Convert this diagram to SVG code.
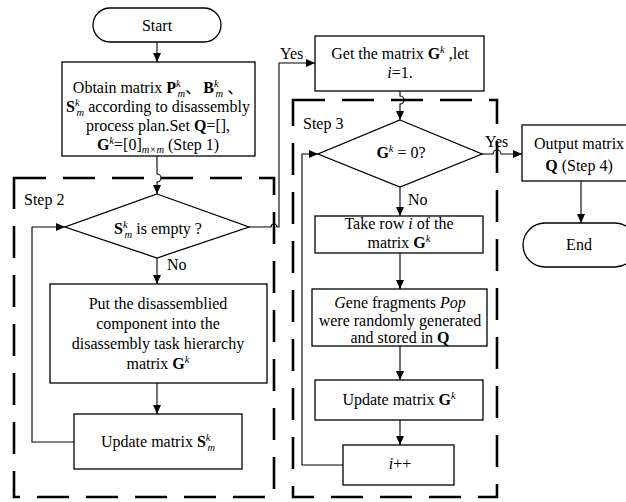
<svg xmlns="http://www.w3.org/2000/svg" width="626" height="502" viewBox="0 0 626 502">
<style>
.t{font-family:"Liberation Serif","Noto Sans CJK SC",serif;font-size:16px;fill:#000}
.m{text-anchor:middle}
.b{font-weight:bold}
.i{font-style:italic}
.s{font-size:10.5px;font-style:italic}
.box{fill:#fff;stroke:#000;stroke-width:1.3}
.cn{fill:none;stroke:#000;stroke-width:1.1}
.dash{fill:none;stroke:#000;stroke-width:2.6;stroke-dasharray:32 17}
</style>
<defs>
<marker id="ah" markerUnits="userSpaceOnUse" markerWidth="10" markerHeight="8" refX="9" refY="4" orient="auto">
<path d="M0,0 L9,4 L0,8 Z" fill="#000"/>
</marker>
</defs>

<g id="step2-region">
<rect class="dash" x="14" y="178" width="260" height="319"/>
<text class="t" x="24" y="205">Step 2</text>
</g>
<g id="step3-region">
<rect class="dash" x="293" y="100" width="204" height="397"/>
<text class="t" x="303" y="129">Step 3</text>
</g>

<g id="connectors">
<path class="cn" d="M157,42 V62" marker-end="url(#ah)"/>
<path class="cn" d="M157,156 V174 A4,4 0 0 1 157,182 V194" marker-end="url(#ah)"/>
<path class="cn" d="M157,258 V284" marker-end="url(#ah)"/>
<path class="cn" d="M157,383 V414" marker-end="url(#ah)"/>
<path class="cn" d="M74,442 H32 V227 H65" marker-end="url(#ah)"/>
<path class="cn" d="M249,227 H271 A3,3 0 0 1 277,227 H279 V63 H315" marker-end="url(#ah)"/>
<path class="cn" d="M400,91 V96 A4,4 0 0 1 400,104 V120" marker-end="url(#ah)"/>
<path class="cn" d="M400,187 V216" marker-end="url(#ah)"/>
<path class="cn" d="M400,253 V289" marker-end="url(#ah)"/>
<path class="cn" d="M400,346 V380" marker-end="url(#ah)"/>
<path class="cn" d="M400,420 V445" marker-end="url(#ah)"/>
<path class="cn" d="M343,465 H302 V154 H318" marker-end="url(#ah)"/>
<path class="cn" d="M482,154 H493 A4,4 0 0 1 501,154 H522" marker-end="url(#ah)"/>
<path class="cn" d="M581,181 V223" marker-end="url(#ah)"/>
<text class="t" x="167" y="270">No</text>
<text class="t" x="280" y="59">Yes</text>
<text class="t" x="408" y="205">No</text>
<text class="t" x="485" y="147">Yes</text>
</g>

<g id="start">
<rect class="box" x="93" y="8" width="128" height="34" rx="17"/>
<text class="t m" x="157" y="31">Start</text>
</g>

<g id="init">
<rect class="box" x="62" y="62" width="193" height="94"/>
<text class="t m" x="158" y="93">Obtain matrix <tspan class="b">P</tspan><tspan class="s" dy="-6">k</tspan><tspan class="s" dx="-3" dy="10">m</tspan><tspan dy="-4">、</tspan><tspan class="b" dx="2">B</tspan><tspan class="s" dy="-6">k</tspan><tspan class="s" dx="-3" dy="10">m</tspan><tspan dy="-4"> 、</tspan></text>
<text class="t m" x="158" y="112"><tspan class="b">S</tspan><tspan class="s" dy="-6">k</tspan><tspan class="s" dx="-3" dy="10">m</tspan><tspan dy="-4"> according to disassembly</tspan></text>
<text class="t m" x="158" y="131">process plan.Set <tspan class="b">Q</tspan>=[],</text>
<text class="t m" x="158" y="150"><tspan class="b">G</tspan><tspan class="s" dy="-6">k</tspan><tspan dy="6">=[0]</tspan><tspan class="s" dy="3">m×m</tspan><tspan dy="-3"> (Step 1)</tspan></text>
</g>

<g id="s-empty">
<polygon class="box" points="157,194 249,227 157,258 65,227"/>
<text class="t m" x="158" y="234"><tspan class="b">S</tspan><tspan class="s" dy="-6">k</tspan><tspan class="s" dx="-3" dy="10">m</tspan><tspan dy="-4"> is empty ?</tspan></text>
</g>

<g id="put">
<rect class="box" x="50" y="284" width="217" height="99"/>
<text class="t m" x="158" y="309">Put the disassemblied</text>
<text class="t m" x="158" y="329">component into the</text>
<text class="t m" x="158" y="349">disassembly task hierarchy</text>
<text class="t m" x="158" y="369">matrix <tspan class="b">G</tspan><tspan class="s" dy="-6">k</tspan></text>
</g>

<g id="update-s">
<rect class="box" x="74" y="414" width="168" height="55"/>
<text class="t m" x="158" y="447">Update matrix <tspan class="b">S</tspan><tspan class="s" dy="-6">k</tspan><tspan class="s" dx="-3" dy="10">m</tspan></text>
</g>

<g id="get-g">
<rect class="box" x="315" y="36" width="169" height="55"/>
<text class="t m" x="400" y="59">Get the matrix <tspan class="b">G</tspan><tspan class="s" dy="-6">k</tspan><tspan dy="6"> ,let</tspan></text>
<text class="t m" x="400" y="78"><tspan class="i">i</tspan>=1.</text>
</g>

<g id="g-zero">
<polygon class="box" points="400,120 482,154 400,187 318,154"/>
<text class="t m" x="401" y="158"><tspan class="b">G</tspan><tspan class="s" dy="-6">k</tspan><tspan dy="6"> = 0?</tspan></text>
</g>

<g id="take-row">
<rect class="box" x="315" y="216" width="168" height="37"/>
<text class="t m" x="399" y="229">Take row <tspan class="i">i</tspan> of the</text>
<text class="t m" x="399" y="248">matrix <tspan class="b">G</tspan><tspan class="s" dy="-6">k</tspan></text>
</g>

<g id="gene">
<rect class="box" x="312" y="289" width="175" height="57"/>
<text class="t m" x="400" y="308"><tspan class="i">G</tspan>ene fragments <tspan class="i">Pop</tspan></text>
<text class="t m" x="400" y="326">were randomly generated</text>
<text class="t m" x="400" y="343">and stored in <tspan class="b">Q</tspan></text>
</g>

<g id="update-g">
<rect class="box" x="315" y="380" width="168" height="40"/>
<text class="t m" x="399" y="405">Update matrix <tspan class="b">G</tspan><tspan class="s" dy="-6">k</tspan></text>
</g>

<g id="inc">
<rect class="box" x="343" y="445" width="111" height="40"/>
<text class="t m" x="400" y="469"><tspan class="i">i</tspan>++</text>
</g>

<g id="output">
<rect class="box" x="522" y="125" width="116" height="56"/>
<text class="t m" x="579" y="149">Output matrix</text>
<text class="t m" x="579" y="171"><tspan class="b">Q</tspan> (Step 4)</text>
</g>

<g id="end">
<rect class="box" x="523" y="223" width="114" height="44" rx="22"/>
<text class="t m" x="579" y="250">End</text>
</g>
</svg>
